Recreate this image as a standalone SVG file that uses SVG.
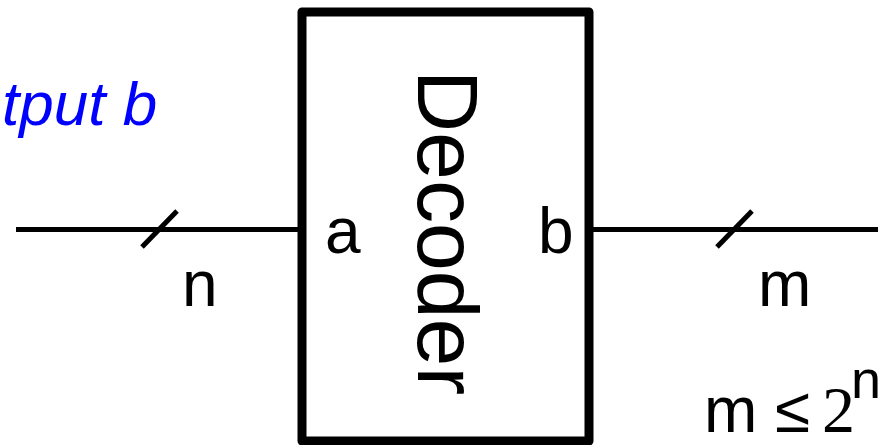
<svg xmlns="http://www.w3.org/2000/svg" width="891" height="445" viewBox="0 0 891 445">
<style>
.t{font-family:"Liberation Sans",Arial,sans-serif;fill:#000}
.w{stroke:#000;stroke-width:5;fill:none}
</style>
<rect width="891" height="445" fill="#fff"/>
<g id="connectors">
<line class="w" x1="16" y1="229.5" x2="302" y2="229.5"/>
<line class="w" x1="589" y1="229.5" x2="878" y2="229.5"/>
<line class="w" x1="142" y1="247" x2="177" y2="211" stroke-width="6"/>
<line class="w" x1="717" y1="247" x2="752" y2="211" stroke-width="6"/>
</g>
<g id="decoder">
<rect x="302" y="12" width="287" height="429" fill="#fff" stroke="#000" stroke-width="9" stroke-linejoin="round"/>
<text class="t" font-size="86" transform="translate(418,70) rotate(90)">Decoder</text>
<text class="t" font-size="64" x="325" y="253">a</text>
<text class="t" font-size="64" x="538" y="253">b</text>
</g>
<g id="labels">
<text class="t" font-size="64" x="182" y="306">n</text>
<text class="t" font-size="64" x="758" y="306">m</text>
<text x="2" y="125" font-family="Liberation Sans,Arial,sans-serif" font-style="italic" font-size="62" fill="#0000ff">tput b</text>
<text class="t" font-size="64" x="704" y="432">m</text>
<text class="t" font-size="64" x="775" y="432">≤</text>
<text font-family="Liberation Serif,Times New Roman,serif" font-size="66" x="822" y="432">2</text>
<text class="t" font-size="54" x="851" y="398">n</text>
</g>
</svg>
